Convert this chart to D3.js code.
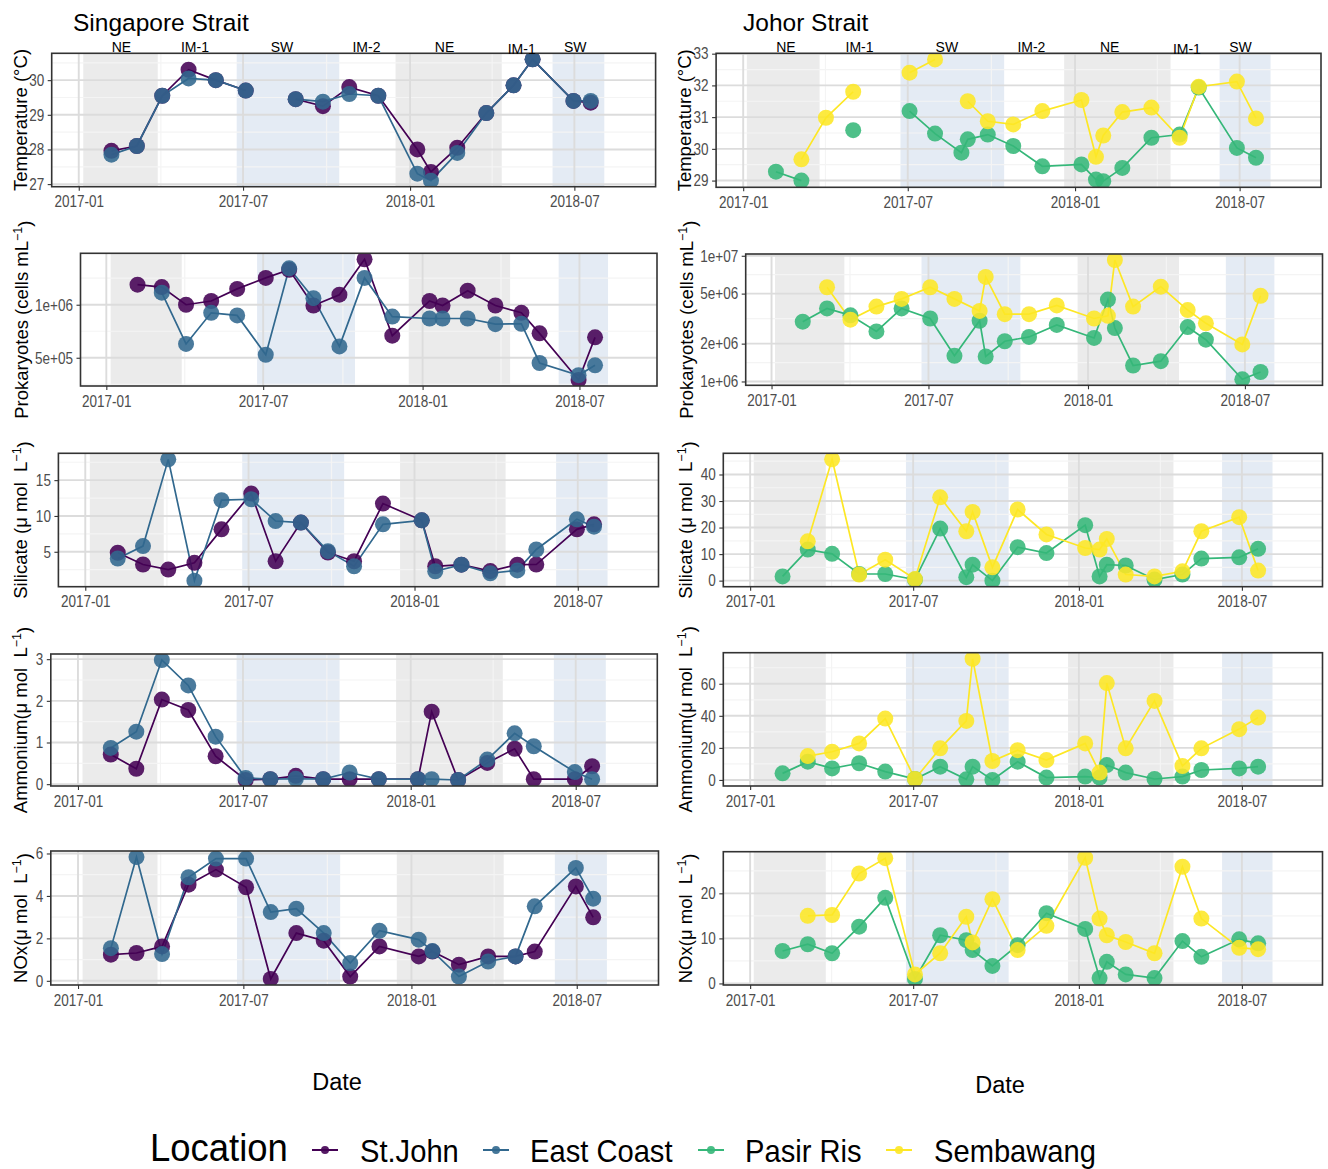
<!DOCTYPE html>
<html><head><meta charset="utf-8">
<script src="https://cdn.jsdelivr.net/npm/d3@7"></script>
<style>
body{margin:0;background:#fff}
svg{display:block}
text{white-space:pre}
</style>
</head><body>
<svg id="chart" width="1328" height="1169"></svg>
<script>
// ---------------- DATA ----------------
const ssDates = ["2017-02-06","2017-03-06","2017-04-03","2017-05-02","2017-06-01","2017-07-04","2017-07-31","2017-08-28","2017-09-27","2017-10-26","2017-11-27","2018-01-09","2018-01-24","2018-02-22","2018-03-26","2018-04-25","2018-05-16","2018-06-30","2018-07-19"];
const jsDates = ["2017-02-06","2017-03-06","2017-04-02","2017-05-02","2017-05-31","2017-07-03","2017-07-31","2017-08-29","2017-09-05","2017-09-27","2017-10-25","2017-11-26","2018-01-08","2018-01-24","2018-02-01","2018-02-22","2018-03-26","2018-04-26","2018-05-17","2018-06-28","2018-07-19"];

const locations = ["St.John","East Coast","Pasir Ris","Sembawang"];
const locationColors = ["#440154","#31688E","#35B779","#FDE725"];

const stJohnTemp    = [27.96,28.1,29.55,30.3,30.0,29.7,null,29.45,29.25,29.8,29.55,28.0,27.35,28.05,29.05,29.85,30.6,29.4,29.35];
const eastCoastTemp = [27.85,28.1,29.55,30.05,30.0,29.7,null,29.45,29.38,29.6,29.55,27.3,27.1,27.9,29.05,29.85,30.6,29.4,29.4];
const pasirRisTemp  = [29.28,29.0,null,30.59,null,31.19,30.48,29.88,30.30,30.45,30.09,29.45,29.51,29.03,28.98,29.40,30.35,30.45,31.93,30.03,29.72];
const sembawangTemp = [null,29.67,30.98,31.80,null,32.40,32.82,null,31.50,30.87,30.77,31.19,31.54,29.75,30.42,31.16,31.30,30.35,31.96,32.12,30.96];

const stJohnProk    = [1.30e6,1.26e6,1.0e6,1.05e6,1.23e6,1.42e6,1.58e6,0.99e6,1.14e6,1.81e6,6.67e5,1.05e6,0.99e6,1.20e6,0.99e6,0.90e6,6.88e5,3.74e5,6.53e5];
const eastCoastProk = [null,1.17e6,5.99e5,0.90e6,0.87e6,5.2e5,1.61e6,1.09e6,5.8e5,1.42e6,8.56e5,8.35e5,8.35e5,8.35e5,7.76e5,7.8e5,4.67e5,3.98e5,4.53e5];
const pasirRisProk  = [2.99e6,3.81e6,3.36e6,2.50e6,3.81e6,3.17e6,1.60e6,3.04e6,1.58e6,2.09e6,2.26e6,2.82e6,2.22e6,4.48e6,2.66e6,1.34e6,1.45e6,2.71e6,2.15e6,1.04e6,1.19e6];
const sembawangProk = [null,5.62e6,3.10e6,3.94e6,4.54e6,5.62e6,4.54e6,3.64e6,6.79e6,3.43e6,3.43e6,4.03e6,3.17e6,3.33e6,9.26e6,3.94e6,5.68e6,3.70e6,2.90e6,1.97e6,4.81e6];

const stJohnSi    = [4.86,3.22,2.52,3.46,8.13,13.13,3.68,9.07,4.9,3.68,11.73,9.39,2.98,3.2,2.3,3.2,3.22,8.13,8.83];
const eastCoastSi = [4.06,5.79,17.9,0.97,12.2,12.33,9.29,9.07,5.08,2.98,8.83,9.39,2.28,3.2,2.0,2.4,5.32,9.53,8.5];
const pasirRisSi  = [1.6,11.7,10.1,2.5,2.5,0.4,19.6,1.3,6.0,0.0,12.6,10.4,20.9,1.6,6.0,5.7,0.4,2.3,8.3,8.8,12.0];
const sembawangSi = [null,14.8,45.7,2.3,7.9,0.6,31.4,18.6,25.9,5.0,26.8,17.4,12.3,11.7,15.7,2.3,1.6,3.5,18.6,23.9,3.8];

const stJohnNH4    = [0.71,0.37,2.03,1.78,0.67,0.1,0.12,0.2,0.12,0.12,0.12,0.12,1.74,0.1,0.51,0.85,0.12,0.12,0.43];
const eastCoastNH4 = [0.87,1.26,2.98,2.37,1.14,0.15,0.12,0.13,0.12,0.28,0.12,0.12,0.12,0.1,0.59,1.22,0.91,0.29,0.12];
const pasirRisNH4  = [4.1,11.4,7.2,10.4,5.2,0.6,8.3,0.4,8.3,0.0,11.4,1.45,2.1,1.5,9.3,4.6,0.6,2.1,6.2,7.2,8.3];
const sembawangNH4 = [null,14.9,17.6,22.8,38.3,0.6,19.7,36.8,75.6,11.8,18.6,12.4,22.8,4.6,60.4,19.7,49.3,8.7,19.7,31.7,38.9];

const stJohnNOx    = [1.23,1.31,1.62,4.53,5.24,4.41,0.09,2.25,1.89,0.2,1.62,1.15,1.38,0.76,1.15,1.15,1.38,4.45,2.99];
const eastCoastNOx = [1.54,5.83,1.26,4.88,5.76,5.76,3.24,3.40,2.25,0.84,2.36,1.94,1.4,0.2,0.91,1.15,3.51,5.32,3.87];
const pasirRisNOx  = [7.2,8.7,6.7,12.6,19.0,1.0,10.7,9.6,7.4,3.9,8.5,15.6,12.1,1.2,4.8,2.0,1.2,9.4,5.9,9.8,8.9];
const sembawangNOx = [null,15.0,15.2,24.4,27.8,2.0,6.7,14.8,9.1,18.7,7.4,12.8,27.9,14.4,10.7,9.2,6.7,25.9,14.4,7.9,7.6];

// tick values / labels
const xTickDates = ["2017-01-01","2017-07-01","2018-01-01","2018-07-01"];
const tempSSTicks = [27,28,29,30];
const prokSSTicks = [5e5,1e6];
const prokSSLabels = ["5e+05","1e+06"];
const siSSTicks = [5,10,15];
const nh4SSTicks = [0,1,2,3];
const noxSSTicks = [0,2,4,6];
const tempJSTicks = [29,30,31,32,33];
const prokJSTicks = [1e6,2e6,5e6,1e7];
const prokJSLabels = ["1e+06","2e+06","5e+06","1e+07"];
const siJSTicks = [0,10,20,30,40];
const nh4JSTicks = [0,20,40,60];
const noxJSTicks = [0,10,20];

// monsoon seasons
const seasonKinds = ["NE","SW","NE","SW"];
const ssSeasonStart = ["2017-01-06","2017-06-24","2017-12-16","2018-06-07"];
const ssSeasonEnd   = ["2017-03-29","2017-10-15","2018-04-12","2018-08-03"];
const jsSeasonStart = ["2017-01-05","2017-06-23","2017-12-20","2018-06-09"];
const jsSeasonEnd   = ["2017-03-26","2017-10-15","2018-04-16","2018-08-04"];
const seasonLabels = ["NE","IM-1","SW","IM-2","NE","IM-1","SW"];
const seasonLabelDates = ["2017-02-17","2017-05-09","2017-08-13","2017-11-14","2018-02-08","2018-05-04","2018-07-02"];

// ---------------- DRAWING ----------------
const parse = d3.timeParse("%Y-%m-%d");
const day0 = parse("2017-01-01");
const fromDay = d => new Date(day0.getTime() + d * 864e5);
const xDomain = [fromDay(-29.8), fromDay(635.5)];

const svg = d3.select("#chart");
const FONT = "'Liberation Sans',Arial,Helvetica,sans-serif";
const seasonFill = {NE:"#ebebeb", SW:"#e4ebf4"};
const TICK_SX = 0.82;

const panels = [
 {frame:[51.7,655.6,53.3,186.7], dates:ssDates, series:[[stJohnTemp,0],[eastCoastTemp,1]], ticks:tempSSTicks, title:["Temperature (°C)"], tx:27, seasons:[ssSeasonStart,ssSeasonEnd], top:true},
 {frame:[80.5,657,253.3,386], dates:ssDates, series:[[stJohnProk,0],[eastCoastProk,1]], ticks:prokSSTicks, labels:prokSSLabels, log:true, title:["Prokaryotes (cells mL","−1",")"], tx:28, seasons:[ssSeasonStart,ssSeasonEnd]},
 {frame:[58.4,658.5,453.3,586.7], dates:ssDates, series:[[stJohnSi,0],[eastCoastSi,1]], ticks:siSSTicks, title:["Silicate (μ mol  L","−1",")"], tx:27, seasons:[ssSeasonStart,ssSeasonEnd]},
 {frame:[50.8,657.3,654,786], dates:ssDates, series:[[stJohnNH4,0],[eastCoastNH4,1]], ticks:nh4SSTicks, title:["Ammonium(μ mol  L","−1",")"], tx:27, seasons:[ssSeasonStart,ssSeasonEnd]},
 {frame:[50.8,658.5,851,985], dates:ssDates, series:[[stJohnNOx,0],[eastCoastNOx,1]], ticks:noxSSTicks, title:["NOx(μ mol  L","−1",")"], tx:27, seasons:[ssSeasonStart,ssSeasonEnd]},
 {frame:[716.1,1321,53.3,187.3], dates:jsDates, series:[[pasirRisTemp,2],[sembawangTemp,3]], ticks:tempJSTicks, title:["Temperature (°C)"], tx:691, seasons:[jsSeasonStart,jsSeasonEnd], top:true},
 {frame:[745.7,1322.5,254,385.3], dates:jsDates, series:[[pasirRisProk,2],[sembawangProk,3]], ticks:prokJSTicks, labels:prokJSLabels, log:true, title:["Prokaryotes (cells mL","−1",")"], tx:693, seasons:[jsSeasonStart,jsSeasonEnd]},
 {frame:[723.3,1322.5,453.3,586.7], dates:jsDates, series:[[pasirRisSi,2],[sembawangSi,3]], ticks:siJSTicks, title:["Silicate (μ mol  L","−1",")"], tx:692, seasons:[jsSeasonStart,jsSeasonEnd]},
 {frame:[723.3,1322.5,652.7,786], dates:jsDates, series:[[pasirRisNH4,2],[sembawangNH4,3]], ticks:nh4JSTicks, title:["Ammonium(μ mol  L","−1",")"], tx:692, seasons:[jsSeasonStart,jsSeasonEnd]},
 {frame:[723.3,1322.5,851.7,985], dates:jsDates, series:[[pasirRisNOx,2],[sembawangNOx,3]], ticks:noxJSTicks, title:["NOx(μ mol  L","−1",")"], tx:692, seasons:[jsSeasonStart,jsSeasonEnd]}
];

function minorBreaks(ticks, tf, dom){
  const t = ticks.map(tf);
  const n = t.length;
  const ext = [t[0]-(t[1]-t[0]), ...t, t[n-1]+(t[n-1]-t[n-2])];
  const out = [];
  for (let i=0;i<ext.length-1;i++){ const m=(ext[i]+ext[i+1])/2; if (m>=dom[0] && m<=dom[1]) out.push(m); }
  return out;
}

panels.forEach((p, pi) => {
  const [x0,x1,y0,y1] = p.frame;
  const x = d3.scaleTime().domain(xDomain).range([x0,x1]);
  const all = p.series.flatMap(s => s[0].filter(v => v!=null));
  let lo = d3.min(all), hi = d3.max(all), y, tf, itf;
  if (p.log){
    tf = Math.log10; itf = v => Math.pow(10,v);
    const a = Math.log10(lo), b = Math.log10(hi), e = (b-a)*0.05;
    y = d3.scaleLog().domain([Math.pow(10,a-e), Math.pow(10,b+e)]).range([y1,y0]);
  } else {
    tf = v => v; itf = v => v;
    const e = (hi-lo)*0.05;
    y = d3.scaleLinear().domain([lo-e, hi+e]).range([y1,y0]);
  }
  const tdom = y.domain().map(tf);

  const g = svg.append("g");
  const clipId = "clip"+pi;
  g.append("clipPath").attr("id",clipId).append("rect")
    .attr("x",x0).attr("y",y0).attr("width",x1-x0).attr("height",y1-y0);
  const inner = g.append("g").attr("clip-path",`url(#${clipId})`);
  inner.append("rect").attr("x",x0).attr("y",y0).attr("width",x1-x0).attr("height",y1-y0).attr("fill","#fff");

  const [ss, se] = p.seasons;
  inner.selectAll("rect.season").data(ss.map((s,i)=>({s:parse(s), e:parse(se[i]), k:seasonKinds[i]})))
    .join("rect").attr("class","season")
    .attr("x",d=>x(d.s)).attr("width",d=>x(d.e)-x(d.s))
    .attr("y",y0).attr("height",y1-y0)
    .attr("fill",d=>seasonFill[d.k]);

  const xt = xTickDates.map(parse);
  const xMinor = minorBreaks(xt, d=>d.getTime(), xDomain.map(d=>d.getTime())).map(v=>new Date(v));
  const yMinor = minorBreaks(p.ticks, tf, tdom).map(itf);
  inner.selectAll("line.xmin").data(xMinor).join("line")
    .attr("x1",d=>x(d)).attr("x2",d=>x(d)).attr("y1",y0).attr("y2",y1)
    .attr("stroke","#f4f4f4").attr("stroke-width",1.2);
  inner.selectAll("line.ymin").data(yMinor).join("line")
    .attr("y1",d=>y(d)).attr("y2",d=>y(d)).attr("x1",x0).attr("x2",x1)
    .attr("stroke","#f4f4f4").attr("stroke-width",1.2);
  inner.selectAll("line.xmaj").data(xt).join("line")
    .attr("x1",d=>x(d)).attr("x2",d=>x(d)).attr("y1",y0).attr("y2",y1)
    .attr("stroke","#dcdcdc").attr("stroke-width",1.9);
  inner.selectAll("line.ymaj").data(p.ticks.filter(t=>tf(t)>=tdom[0]&&tf(t)<=tdom[1])).join("line")
    .attr("y1",d=>y(d)).attr("y2",d=>y(d)).attr("x1",x0).attr("x2",x1)
    .attr("stroke","#dcdcdc").attr("stroke-width",1.9);

  const line = d3.line().defined(d=>d.v!=null).x(d=>x(d.d)).y(d=>y(d.v));
  const seriesData = p.series.map(([vals,ci]) => ({ci, pts: vals.map((v,i)=>({d:parse(p.dates[i]), v}))}));
  seriesData.forEach(s => {
    inner.append("path").datum(s.pts).attr("d",line)
      .attr("fill","none").attr("stroke",locationColors[s.ci]).attr("stroke-width",1.7);
  });
  seriesData.forEach(s => {
    inner.selectAll(null).data(s.pts.filter(d=>d.v!=null)).join("circle")
      .attr("cx",d=>x(d.d)).attr("cy",d=>y(d.v)).attr("r",8)
      .attr("fill",locationColors[s.ci]).attr("fill-opacity",0.88);
  });

  g.append("rect").attr("x",x0).attr("y",y0).attr("width",x1-x0).attr("height",y1-y0)
    .attr("fill","none").attr("stroke","#333").attr("stroke-width",1.6);

  const yAxis = d3.axisLeft(y).tickValues(p.ticks).tickSizeInner(4).tickSizeOuter(0).tickPadding(3)
    .tickFormat((d,i)=> p.labels ? p.labels[i] : d3.format("d")(d));
  const ya = g.append("g").attr("transform",`translate(${x0},0)`).call(yAxis);
  const xAxis = d3.axisBottom(x).tickValues(xt).tickSizeInner(4).tickSizeOuter(0).tickPadding(5)
    .tickFormat(d3.timeFormat("%Y-%m"));
  const xa = g.append("g").attr("transform",`translate(0,${y1})`).call(xAxis);
  [ya,xa].forEach(a=>{
    a.select(".domain").remove();
    a.selectAll(".tick line").attr("stroke","#333").attr("stroke-width",1.1);
    a.selectAll(".tick text").attr("fill","#4d4d4d").style("font-family",FONT).style("font-size","16.5px")
      .attr("transform",`scale(${TICK_SX},1)`);
  });
  ya.selectAll(".tick text").attr("x",-7.5/TICK_SX);

  const cy = (y0+y1)/2;
  const t = g.append("text").attr("transform",`translate(${p.tx},${cy}) rotate(-90)`)
    .attr("text-anchor","middle").style("font-family",FONT).style("font-size","18.5px").attr("fill","#000");
  t.append("tspan").text(p.title[0]);
  if (p.title.length>1){
    t.append("tspan").attr("dy","-0.5em").style("font-size","12.5px").text(p.title[1]);
    t.append("tspan").attr("dy","0.5em").text(p.title[2]);
  }

  if (p.top){
    g.selectAll(null).data(seasonLabels).join("text")
      .attr("x",(d,i)=>x(parse(seasonLabelDates[i])))
      .attr("y",(d,i)=> i===5 ? 53.8 : 51.6)
      .attr("text-anchor","middle").style("font-family",FONT).style("font-size","14px")
      .attr("fill","#000").text(d=>d);
  }
});

svg.append("text").attr("x",73).attr("y",31).style("font-family",FONT).style("font-size","24.5px").text("Singapore Strait");
svg.append("text").attr("x",743).attr("y",31).style("font-family",FONT).style("font-size","24.5px").text("Johor Strait");

svg.append("text").attr("x",337).attr("y",1090).attr("text-anchor","middle").style("font-family",FONT).style("font-size","23.5px").text("Date");
svg.append("text").attr("x",1000).attr("y",1093).attr("text-anchor","middle").style("font-family",FONT).style("font-size","23.5px").text("Date");

// legend (text slightly condensed as in the reference)
const leg = svg.append("g");
leg.append("text").attr("transform","translate(150,1161) scale(0.96,1)")
  .style("font-family",FONT).style("font-size","38px").text("Location");
const keyX = [325,496,711,899];
const labX = [360,530,745,934];
locations.forEach((name,i)=>{
  leg.append("line").attr("x1",keyX[i]-13).attr("x2",keyX[i]+13).attr("y1",1150).attr("y2",1150)
    .attr("stroke",locationColors[i]).attr("stroke-width",2);
  leg.append("circle").attr("cx",keyX[i]).attr("cy",1150).attr("r",4).attr("fill",locationColors[i]).attr("fill-opacity",0.9);
  leg.append("text").attr("transform",`translate(${labX[i]},1162) scale(0.94,1)`)
    .style("font-family",FONT).style("font-size","31px").text(name);
});
</script>
</body></html>
